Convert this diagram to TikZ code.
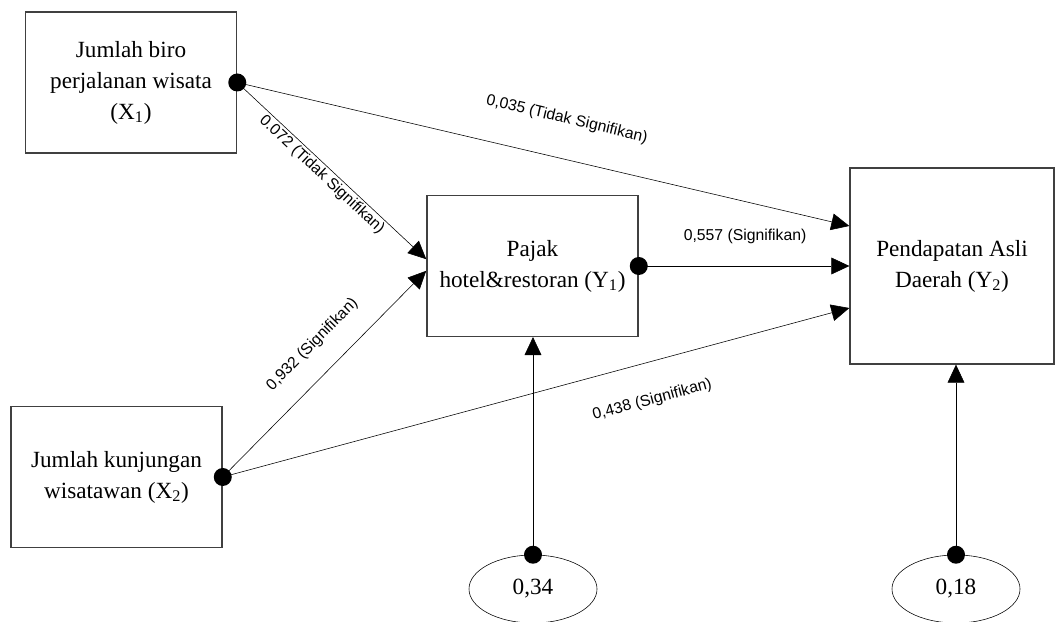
\documentclass[tikz,border=0pt]{standalone}
\usepackage{fontspec}
\setmainfont{Liberation Serif}
\newfontfamily\labelfont{Liberation Sans}
\usetikzlibrary{shapes,arrows.meta,calc,positioning}
\tikzset{
    -{Triangle[length=0.45cm,width=0.42cm]},semithick,
    var/.style ={rectangle, draw=black!75, line width=0.9pt, align=center, minimum width=5.28cm, minimum height=3.52cm, font=\fontsize{16.5}{22}\selectfont},
    err/.style ={ellipse, draw, minimum width=3.2cm, minimum height=1.7cm, font=\fontsize{16.5}{22}\selectfont},
    point/.style = {circle, fill, inner sep=0pt, minimum size=0.45cm, node contents={}},
    el/.style = {inner sep=0pt, sloped, font=\labelfont\fontsize{11.2}{13}\selectfont}
}

\begin{document}
\begin{tikzpicture}[x=0.025cm,y=-0.025cm]
    \useasboundingbox (0,0) rectangle (1055,622);
    \node[var] (x1) at (131,82.5) {Jumlah biro\\perjalanan wisata\\(X\textsubscript{1})};
    \node[var] (x2) at (116.5,477) {Jumlah kunjungan\\wisatawan (X\textsubscript{2})};
    \node[var] (y1) at (532.5,266) {Pajak\\hotel\&restoran (Y\textsubscript{1})};
    \node[var, minimum width=5.1cm, minimum height=4.9cm] (y2) at (952,266) {Pendapatan Asli\\Daerah (Y\textsubscript{2})};
    \node[err] (e1) at (533,589) {0,34};
    \node[err] (e2) at (956,589) {0,18};

    \path (x1.east) edge node[el, above=22.4pt, pos=0.524] {0,035 (Tidak Signifikan)} ([yshift=1cm]y2.west);
    \path (x1.east) edge node[el, below=1.6pt, pos=0.483] {0.072 (Tidak Signifikan)} ([yshift=0.17cm]y1.west);
    \path (x2.east) edge node[el, above=15.3pt, pos=0.543] {0,932 (Signifikan)} ([yshift=-0.12cm]y1.west);
    \path (x2.east) edge node[el, below=21.3pt, pos=0.67] {0,438 (Signifikan)} ([yshift=-1.05cm]y2.west);
    \path (y1.east) edge node[el, above=15.3pt, pos=0.505] {0,557 (Signifikan)} (y2.west);
    \path (e1.north) edge (e1.north |- y1.south);
    \path (e2.north) edge (e2.north |- y2.south);

    \node at (x1.east) [point];
    \node at (x2.east) [point];
    \node at (y1.east) [point];
    \node at (e1.north) [point];
    \node at (e2.north) [point];
\end{tikzpicture}
\end{document}
